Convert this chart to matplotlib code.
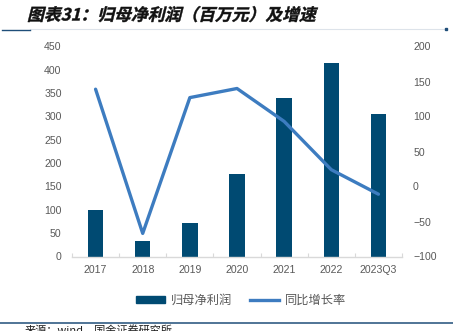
import matplotlib
matplotlib.use("Agg")
import matplotlib.pyplot as plt
from matplotlib.textpath import TextPath
from matplotlib.font_manager import FontProperties
from matplotlib.patches import PathPatch
from matplotlib.lines import Line2D
from matplotlib.transforms import Affine2D
import numpy as np

plt.rcParams['font.family'] = ['Liberation Sans', 'Noto Sans CJK SC', 'DejaVu Sans']

years = ['2017', '2018', '2019', '2020', '2021', '2022', '2023Q3']
net_profit = [99, 34, 72, 176, 339, 414, 306]        # 百万元
yoy_growth = [139, -67, 127, 140, 93, 24, -11]       # %

title = '图表31：归母净利润（百万元）及增速'
bar_label = '归母净利润'
line_label = '同比增长率'
source = '来源：wind，国金证券研究所'

BAR = '#004a72'
LINE = '#3d7cc0'
TICK = '#595959'

W, H, DPI = 453, 331, 100
fig = plt.figure(figsize=(W / DPI, H / DPI), dpi=DPI)

def fx(px):
    return px / W

def fy(py):
    return 1 - py / H

ax = fig.add_axes([fx(72), fy(256.5), fx(402) - fx(72), fy(46.5) - fy(256.5)])
x = np.arange(len(years))
ax.bar(x, net_profit, width=0.33, color=BAR, zorder=2)
ax.set_xlim(-0.5, len(years) - 0.5)
ax.set_ylim(0, 450)
ax.set_yticks(np.arange(0, 451, 50))
ax.set_xticks(x)
ax.set_xticklabels(years)
ax.set_xticks(np.arange(-0.5, len(years), 1), minor=True)
for s in ['top', 'right', 'left']:
    ax.spines[s].set_visible(False)
ax.spines['bottom'].set_color('#d9d9d9')
ax.spines['bottom'].set_linewidth(1.0)
ax.tick_params(axis='y', length=0, pad=7.5, labelsize=7.6, labelcolor=TICK)
ax.tick_params(axis='x', which='major', length=0, pad=6, labelsize=7.6, labelcolor=TICK)
ax.tick_params(axis='x', which='minor', length=3, direction='in', color='#d9d9d9', width=0.8)

ax2 = ax.twinx()
ax2.plot(x, yoy_growth, color=LINE, lw=2.4, solid_capstyle='round', solid_joinstyle='round', zorder=3)
ax2.set_ylim(-100, 200)
ax2.set_yticks(np.arange(-100, 201, 50))
for s in ['top', 'right', 'left', 'bottom']:
    ax2.spines[s].set_visible(False)
ax2.tick_params(axis='y', length=0, pad=8, labelsize=7.6, labelcolor=TICK)
for lbl in ax2.get_yticklabels():
    lbl.set_horizontalalignment('left')

# legend
handles = [plt.Rectangle((0, 0), 1, 1, color=BAR),
           Line2D([0], [0], color=LINE, lw=2.4)]
fig.legend(handles, [bar_label, line_label], loc='center',
           bbox_to_anchor=(fx(241), fy(301)), ncol=2, frameon=False,
           fontsize=8.8, labelcolor=TICK, handlelength=2.4, handleheight=0.55,
           columnspacing=1.4, handletextpad=0.5)

# oblique bold title
fp = FontProperties(family='Noto Sans CJK SC', weight='bold')
tp = TextPath((0, 0), title, prop=fp, size=12.1)
tr = (Affine2D().skew_deg(14, 0).scale(1 / 72)
      .translate(27 / DPI, (H - 20.5) / DPI) + fig.dpi_scale_trans)
fig.patches.append(PathPatch(tp, transform=tr, facecolor='#111111', edgecolor='#111111', lw=0.3))

# header rules
fig.add_artist(Line2D([fx(30), fx(447)], [fy(28.6), fy(28.6)], color='#dde3ea', lw=0.8))
fig.add_artist(Line2D([fx(2), fx(30)], [fy(29.6), fy(29.6)], color='#1f4e79', lw=1.0))
fig.add_artist(Line2D([fx(446)], [fy(29)], marker='s', ms=1.5, color='#1f4e79', lw=0))

# footer rule and source line (runs past the lower edge of the page)
fig.add_artist(Line2D([0, 1], [fy(322.7), fy(322.7)], color='#1f4e79', lw=1.1))
fig.text(fx(25), fy(324.5), source, fontsize=8, color='#222222', va='top', ha='left',
         family=['Noto Sans CJK SC', 'DejaVu Sans'])

fig.savefig('out.png', dpi=DPI)
